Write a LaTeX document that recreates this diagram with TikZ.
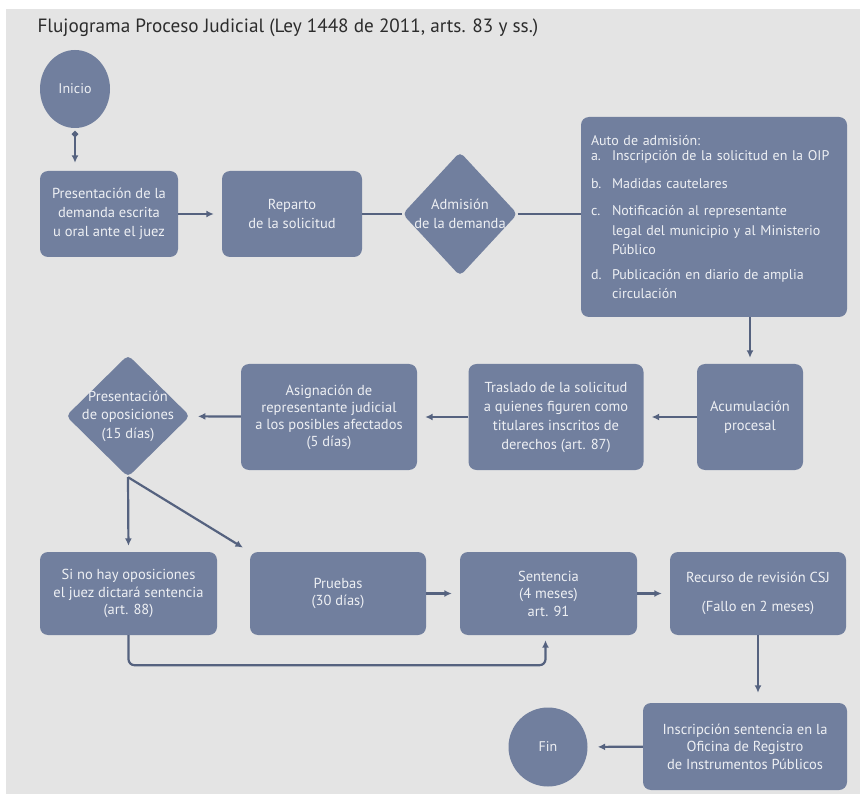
\documentclass[tikz,border=0pt]{standalone}
\usepackage{fontspec}
\setmainfont{PT Sans}
\usetikzlibrary{arrows.meta,shapes.geometric,positioning}
\definecolor{fondo}{HTML}{E4E4E4}
\definecolor{caja}{HTML}{717F9E}
\definecolor{letra}{HTML}{EEF0F4}
\definecolor{trazo}{HTML}{55627F}
\definecolor{titulo}{HTML}{2C2C2C}
\newcommand{\litem}[2]{\par\hangindent=21pt\hangafter=1\noindent\makebox[21pt][l]{#1}#2\par}
\tikzset{enlace/.style={draw=trazo, line width=2.2pt},
	flecha/.style={enlace, -{Latex[length=7.5pt,width=7pt]}, shorten >=8pt}
}
\tikzstyle{paso} = [fill=caja, rounded corners=8pt, text=letra, align=center, inner sep=3pt, font=\fontsize{14.5}{19}\selectfont]
\tikzstyle{decision} = [diamond, fill=caja, rounded corners=5pt, text=letra, align=center, inner sep=-10pt, font=\fontsize{14.5}{18.5}\selectfont]
\tikzstyle{terminal} = [ellipse, fill=caja, text=letra, inner sep=0pt, font=\fontsize{14}{16}\selectfont]

\begin{document}
\begin{tikzpicture}[x=1pt, y=-1pt]
	\useasboundingbox (0,0) rectangle (860,794);
	\fill[white] (0,0) rectangle (860,794);
	\fill[fondo] (6,9) rectangle (860,794);
	
	\node[anchor=west, text=titulo, font=\fontsize{19.2}{22}\selectfont] (tit) at (34,28) {Flujograma Proceso Judicial (Ley 1448 de 2011, arts. 83 y ss.)};
	
	\node[terminal, minimum width=70pt, minimum height=78pt](inicio) at (75,89) {Inicio};
	\node[paso, minimum width=138pt, minimum height=86pt](presentacion) at (109,214) {Presentación de la\\demanda escrita\\u oral ante el juez};
	\node[paso, minimum width=140pt, minimum height=86pt](reparto) at (292,214) {Reparto\\de la solicitud};
	\node[decision, minimum width=115pt, minimum height=124pt](admision) at (460,214) {Admisión\\de la demanda};
	\node[paso, align=left, text width=246pt, inner sep=10pt, minimum height=200pt, font=\fontsize{14}{19.5}\selectfont](auto) at (714,217) {Auto de admisión:\par\vspace{-4pt}
		\litem{a.}{Inscripción de la solicitud en la OIP}\vspace{8pt}
		\litem{b.}{Madidas cautelares}\vspace{8pt}
		\litem{c.}{Notificación al representante\newline legal del municipio y al Ministerio\newline Público}\vspace{5pt}
		\litem{d.}{Publicación en diario de amplia\newline circulación}};
	
	\node[paso, minimum width=106pt, minimum height=106pt](acumulacion) at (750,417) {Acumulación\\procesal};
	\node[paso, minimum width=175pt, minimum height=106pt](traslado) at (556,417) {Traslado de la solicitud\\a quienes figuren como\\titulares inscritos de\\derechos (art. 87)};
	\node[paso, minimum width=176pt, minimum height=106pt, font=\fontsize{14.5}{17}\selectfont](asignacion) at (329,417) {Asignación de\\representante judicial\\a los posibles afectados\\(5 días)};
	\node[decision, minimum width=124pt, minimum height=122pt](oposiciones) at (128,416) {Presentación\\de oposiciones\\(15 días)};
	
	\node[paso, minimum width=177pt, minimum height=83pt, font=\fontsize{14.5}{17.5}\selectfont](sino) at (128.5,593.5) {Si no hay oposiciones\\el juez dictará sentencia\\(art. 88)};
	\node[paso, minimum width=176pt, minimum height=83pt, font=\fontsize{14.5}{17.5}\selectfont](pruebas) at (338,593.5) {Pruebas\\(30 días)};
	\node[paso, minimum width=177pt, minimum height=83pt, font=\fontsize{14.5}{17.5}\selectfont](sentencia) at (548.5,593.5) {Sentencia\\(4 meses)\\art. 91};
	\node[paso, minimum width=176pt, minimum height=83pt, font=\fontsize{14.5}{17.5}\selectfont](recurso) at (758,593.5) {Recurso de revisión CSJ\\[12pt](Fallo en 2 meses)};
	
	\node[paso, minimum width=204pt, minimum height=87pt, font=\fontsize{14.5}{17.5}\selectfont](inscripcion) at (745,746.5) {Inscripción sentencia en la\\Oficina de Registro\\de Instrumentos Públicos};
	\node[terminal, minimum width=79pt, minimum height=79pt](fin) at (548,747) {Fin};
	
	% draw lines
	\draw[flecha, {Circle[length=6pt,width=6pt]}-{Latex[length=7.5pt,width=7pt]}, shorten <=3pt] (inicio.south) -- (inicio.south |- presentacion.north);
	\draw[flecha] (presentacion) -- (reparto);
	\draw[enlace] (reparto) -- (admision) -- (admision.east -| auto.west);
	\draw[flecha, shorten >=6pt] (acumulacion.north |- auto.south) -- (acumulacion.north);
	\draw[flecha] (acumulacion) -- (traslado);
	\draw[flecha] (traslado) -- (asignacion);
	\draw[flecha] (asignacion) -- (oposiciones);
	\draw[flecha, shorten >=6pt] (oposiciones.south) -- (sino.north);
	\draw[flecha] (oposiciones.south) -- (pruebas.north west);
	\draw[flecha] (pruebas) -- (sentencia);
	\draw[flecha] (sentencia) -- (recurso);
	\draw[flecha, shorten >=5pt, rounded corners=6pt] (sino.south) -- ++(0,30) -| ([xshift=-3pt]sentencia.south);
	\draw[flecha, shorten >=10pt] (recurso.south) -- (recurso.south |- inscripcion.north);
	\draw[flecha, shorten >=10pt] (inscripcion) -- (fin);
\end{tikzpicture}
\end{document}
